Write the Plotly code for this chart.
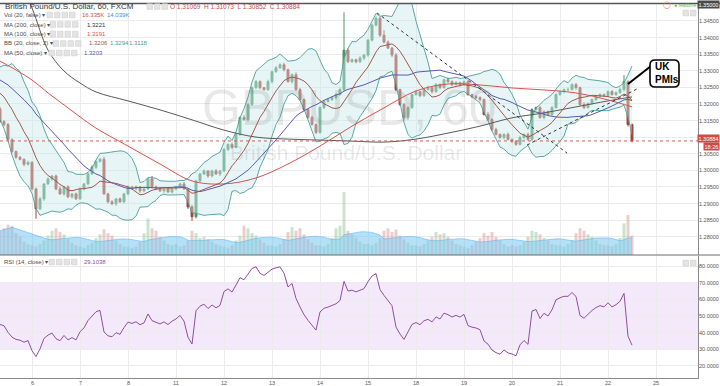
import numpy as np
import pandas as pd
import plotly.graph_objects as go

# ---------------- data ----------------
day_labels = ["6", "7", "8", "11", "12", "13", "14", "15", "18", "19", "20", "21", "22", "25"]
day_first_bar = [8, 20, 32, 44, 56, 68, 80, 92, 104, 116, 128, 140, 152, 164]  # 2-hour bars

price_ticks = [1.280, 1.285, 1.290, 1.295, 1.300, 1.305, 1.310, 1.315, 1.320, 1.325, 1.330, 1.335,
               1.340, 1.345]
rsi_ticks = [20, 30, 40, 50, 60, 70, 80]

# closes before the visible window (only used to warm up the indicators)
history_close = [1.3290, 1.3320, 1.3285, 1.3330, 1.3295, 1.3340, 1.3300, 1.3325, 1.3280, 1.3315,
                 1.3270, 1.3305, 1.3265, 1.3300, 1.3255, 1.3295, 1.3250, 1.3285, 1.3240, 1.3275,
                 1.3230, 1.3260, 1.3215, 1.3235, 1.3185]

close = [1.3147, 1.3138, 1.3093, 1.3057, 1.3039, 1.3033, 1.3018, 1.3024,
         1.2944, 1.2884, 1.2914, 1.2959, 1.2974, 1.2983, 1.2944, 1.2929, 1.2950, 1.2920, 1.2929, 1.2914,
         1.2944, 1.2959, 1.2989, 1.3009, 1.3027, 1.3033, 1.2929, 1.2905, 1.2899, 1.2914, 1.2905, 1.2929,
         1.2950, 1.2944, 1.2950, 1.2938, 1.2944, 1.2974, 1.2950, 1.2944, 1.2938, 1.2944, 1.2935, 1.2944,
         1.2950, 1.2959, 1.2944, 1.2890, 1.2860, 1.2968, 1.2989, 1.2998, 1.2983, 1.2998, 1.2989, 1.2998,
         1.3063, 1.3078, 1.3069, 1.3108, 1.3159, 1.3153, 1.3198, 1.3249, 1.3267, 1.3249, 1.3243, 1.3267,
         1.3297, 1.3309, 1.3318, 1.3303, 1.3267, 1.3288, 1.3243, 1.3213, 1.3183, 1.3159, 1.3138, 1.3114,
         1.3189, 1.3207, 1.3213, 1.3219, 1.3228, 1.3243, 1.3362, 1.3327, 1.3333, 1.3327, 1.3338, 1.3347,
         1.3392, 1.3437, 1.3458, 1.3407, 1.3386, 1.3368, 1.3347, 1.3243, 1.3198, 1.3159, 1.3189, 1.3228,
         1.3237, 1.3225, 1.3243, 1.3249, 1.3237, 1.3258, 1.3249, 1.3273, 1.3267, 1.3258, 1.3264, 1.3258,
         1.3267, 1.3228, 1.3222, 1.3219, 1.3213, 1.3168, 1.3153, 1.3123, 1.3108, 1.3099, 1.3108, 1.3093,
         1.3087, 1.3078, 1.3099, 1.3108, 1.3093, 1.3183, 1.3189, 1.3159, 1.3177, 1.3168, 1.3189, 1.3228,
         1.3237, 1.3243, 1.3243, 1.3258, 1.3249, 1.3198, 1.3189, 1.3201, 1.3213, 1.3222, 1.3228, 1.3225,
         1.3237, 1.3228, 1.3234, 1.3243, 1.3267, 1.3138, 1.30884]

upper_wick_pips = [6, 4, 5, 3, 2, 4, 3, 5,
                   3, 4, 6, 2, 5, 3, 4, 7, 3, 5, 2, 4,
                   4, 3, 5, 6, 2, 4, 8, 3, 5, 2, 4, 3,
                   5, 3, 4, 2, 6, 3, 9, 4, 3, 5, 2, 4,
                   3, 4, 5, 3, 6, 4, 3, 5, 2, 4, 6, 3,
                   4, 3, 6, 5, 3, 7, 4, 3, 5, 4, 2, 6,
                   3, 5, 4, 6, 3, 4, 7, 5, 3, 4, 6, 3,
                   4, 3, 5, 3, 4, 6, 114, 5, 4, 3, 6, 4,
                   3, 5, 6, 4, 15, 5, 4, 6, 3, 5, 4, 3,
                   5, 3, 4, 6, 3, 5, 4, 3, 6, 4, 5, 3,
                   4, 6, 3, 5, 4, 3, 8, 4, 5, 3, 4, 6,
                   3, 4, 5, 3, 6, 4, 3, 5, 4, 3, 5, 4,
                   4, 3, 6, 4, 5, 3, 7, 4, 3, 5, 4, 3,
                   4, 5, 3, 6, 20, 4, 3]

lower_wick_pips = [4, 6, 3, 5, 4, 3, 6, 4,
                   5, 30, 4, 6, 3, 5, 4, 3, 6, 4, 5, 3,
                   3, 5, 4, 3, 6, 4, 3, 5, 4, 6, 3, 5,
                   4, 3, 5, 6, 4, 3, 5, 4, 3, 6, 4, 5,
                   5, 4, 3, 6, 12, 5, 4, 3, 5, 4, 3, 6,
                   3, 5, 4, 3, 5, 4, 6, 3, 4, 5, 3, 4,
                   5, 3, 4, 5, 3, 6, 4, 3, 5, 4, 3, 5,
                   4, 5, 3, 4, 6, 3, 5, 4, 3, 5, 4, 6,
                   5, 4, 3, 5, 4, 3, 6, 5, 4, 6, 8, 4,
                   3, 5, 4, 3, 6, 4, 5, 3, 4, 5, 3, 6,
                   4, 3, 5, 4, 6, 3, 4, 5, 3, 4, 6, 3,
                   5, 4, 3, 6, 4, 5, 3, 4, 6, 3, 5, 4,
                   3, 5, 4, 3, 6, 4, 5, 3, 4, 5, 3, 4,
                   5, 3, 4, 3, 5, 6, 4]

volume_k = [20, 22, 25, 24, 18, 15, 11, 9,
            8, 7, 9, 12, 16, 20, 22, 19, 17, 13, 10, 8,
            7, 6, 8, 10, 14, 17, 21, 18, 16, 12, 9, 7,
            7, 6, 7, 11, 18, 30, 22, 20, 15, 12, 9, 8,
            9, 7, 8, 12, 20, 18, 14, 15, 13, 11, 9, 8,
            7, 6, 8, 12, 16, 24, 22, 18, 16, 13, 10, 8,
            8, 7, 9, 13, 19, 23, 20, 22, 17, 13, 10, 8,
            8, 7, 9, 14, 22, 24, 52, 20, 17, 14, 11, 9,
            9, 8, 10, 14, 20, 22, 19, 21, 16, 13, 10, 8,
            8, 7, 9, 12, 15, 19, 17, 18, 15, 12, 9, 8,
            7, 6, 8, 11, 14, 18, 16, 19, 15, 12, 9, 7,
            8, 7, 8, 11, 15, 20, 19, 17, 14, 12, 9, 8,
            8, 7, 9, 12, 18, 22, 20, 17, 15, 12, 9, 8,
            8, 7, 9, 14, 26, 33, 16]

# long moving averages at sample bars
ma_sample_bar = [0, 4, 8, 12, 16, 20, 24, 32, 40, 48, 56, 64, 72, 80, 88, 96, 104, 112, 120, 128,
                 136, 144, 152, 158]
ma200_read = [1.3694, 1.3597, 1.3489, 1.3362, 1.3299, 1.3263, 1.3236, 1.3209, 1.3182, 1.3152,
              1.3121, 1.3100, 1.3094, 1.3091, 1.3088, 1.3085, 1.3094, 1.3112, 1.3133, 1.3158,
              1.3173, 1.3191, 1.3209, 1.3221]
ma100_read = [1.3329, 1.3302, 1.3272, 1.3233, 1.3197, 1.3161, 1.3127, 1.3073, 1.3019, 1.2968,
              1.2959, 1.2977, 1.3019, 1.3073, 1.3133, 1.3188, 1.3239, 1.3260, 1.3257, 1.3248,
              1.3242, 1.3233, 1.3212, 1.3191]

# hand-drawn dotted trend lines: (bar, price) -> (bar, price)
trend_lines = [((94.25, 1.3474), (141.75, 1.3052)),
               ((131.75, 1.3076), (159.25, 1.3245))]

title_text = "British Pound/U.S. Dollar, 60, FXCM"
ohlc_text = "O 1.31069  H 1.31073  L 1.30852  C 1.30884"
vol_texts = ["16.335K", "14.039K"]
ma200_text, ma100_text, ma50_text = "1.3221", "1.3191", "1.3203"
bb_texts = ["1.3206", "1.3294", "1.3118"]
rsi_text = "29.1038"
last_price_text, countdown_text = "1.30884", "18:26"

# ---------------- indicators ----------------
n_hist = len(history_close)
allc = pd.Series(history_close + close)
bars = np.arange(len(close))
c = np.array(close)
o = np.r_[history_close[-1], c[:-1]]
hi = np.maximum(o, c) + np.array(upper_wick_pips) * 1e-4
lo = np.minimum(o, c) - np.array(lower_wick_pips) * 1e-4

bb_mid = allc.rolling(10, min_periods=1).mean().values[n_hist:]
bb_sd = allc.rolling(10, min_periods=1).std(ddof=0).values[n_hist:]
bb_up, bb_lo = bb_mid + 2 * bb_sd, bb_mid - 2 * bb_sd
ma50 = allc.rolling(25, min_periods=1).mean().values[n_hist:]
RSI_N = 14
d = allc.diff()
ag = d.clip(lower=0).ewm(alpha=1 / RSI_N, adjust=False).mean()
al = (-d.clip(upper=0)).ewm(alpha=1 / RSI_N, adjust=False).mean()
rsi = (100 - 100 / (1 + ag / al)).values[n_hist:]
vol = pd.Series(volume_k, dtype=float)
vol_ma = vol.rolling(10, min_periods=1).mean()
up = c >= o

# ---------------- geometry helpers ----------------
PW, PH, TOP = 698, 375, 3
W = 720


def px(x):
    return x / PW


def py(y):
    return (TOP + PH - y) / PH


FONT = "Liberation Sans, Arial, sans-serif"
C_UP, C_DN = "#4f9668", "#a4443a"
C_BB = "#45a09a"

fig = go.Figure()

fig.add_trace(go.Bar(x=bars, y=vol, yaxis="y3", xaxis="x", width=0.75,
                     marker=dict(color=np.where(up, "rgba(120,185,130,0.40)", "rgba(210,130,125,0.40)"),
                                 line=dict(width=0)), hoverinfo="skip"))
fig.add_trace(go.Scatter(x=bars, y=vol_ma, yaxis="y3", mode="lines", fill="tozeroy",
                         fillcolor="rgba(120,200,242,0.55)", line=dict(color="rgba(95,180,232,0.7)", width=0.8)))

fig.add_trace(go.Scatter(x=bars, y=bb_up, mode="lines", line=dict(color=C_BB, width=0.9)))
fig.add_trace(go.Scatter(x=bars, y=bb_lo, mode="lines", line=dict(color=C_BB, width=0.9),
                         fill="tonexty", fillcolor="rgba(205,232,236,0.45)"))
fig.add_trace(go.Scatter(x=ma_sample_bar, y=ma200_read, mode="lines", line_shape="spline",
                         line=dict(color="#5a5a5a", width=1)))
fig.add_trace(go.Scatter(x=ma_sample_bar, y=ma100_read, mode="lines", line_shape="spline",
                         line=dict(color="#d9534f", width=1)))
fig.add_trace(go.Scatter(x=bars, y=ma50, mode="lines", line=dict(color="#5a5ab0", width=1)))
fig.add_trace(go.Scatter(x=bars, y=bb_mid, mode="lines", line=dict(color="#a5574e", width=1)))

fig.add_trace(go.Candlestick(x=bars, open=o, high=hi, low=lo, close=c, whiskerwidth=0,
                             increasing=dict(line=dict(color=C_UP, width=1), fillcolor=C_UP),
                             decreasing=dict(line=dict(color=C_DN, width=1), fillcolor=C_DN)))

fig.add_trace(go.Scatter(x=bars, y=rsi, xaxis="x2", yaxis="y2", mode="lines",
                         line=dict(color="#8e4fa3", width=1)))

shapes = []
shapes.append(dict(type="rect", xref="paper", yref="y2", x0=0, x1=1, y0=30, y1=70,
                   fillcolor="#f4e8fb", line=dict(width=0), layer="below"))
shapes.append(dict(type="line", xref="paper", yref="y", x0=0, x1=1, y0=close[-1], y1=close[-1],
                   line=dict(color="#c9625c", width=1, dash="dot")))
for (xa, ya), (xb, yb) in trend_lines:
    shapes.append(dict(type="line", xref="x", yref="y", x0=xa, y0=ya, x1=xb, y1=yb,
                       line=dict(color="#333333", width=1, dash="dot")))
shapes.append(dict(type="line", xref="paper", yref="paper", x0=0, x1=W / PW, y0=py(255), y1=py(255),
                   line=dict(color="#6a6a6a", width=1)))
shapes.append(dict(type="line", xref="paper", yref="paper", x0=0, x1=W / PW, y0=py(3.5), y1=py(3.5),
                   line=dict(color="#555555", width=1.5)))
shapes.append(dict(type="line", xref="paper", yref="paper", x0=px(628), y0=py(84), x1=px(651), y1=py(66),
                   line=dict(color="black", width=2)))


def rrect(x0, y0, x1, y1, r):
    return (f"M {px(x0 + r)},{py(y0)} L {px(x1 - r)},{py(y0)} Q {px(x1)},{py(y0)} {px(x1)},{py(y0 + r)} "
            f"L {px(x1)},{py(y1 - r)} Q {px(x1)},{py(y1)} {px(x1 - r)},{py(y1)} "
            f"L {px(x0 + r)},{py(y1)} Q {px(x0)},{py(y1)} {px(x0)},{py(y1 - r)} "
            f"L {px(x0)},{py(y0 + r)} Q {px(x0)},{py(y0)} {px(x0 + r)},{py(y0)} Z")


shapes.append(dict(type="path", xref="paper", yref="paper", path=rrect(650, 60, 679, 87, 5),
                   fillcolor="white", line=dict(color="black", width=1.6)))

annotations = []


def txt(x, y, s, size=6, color="#4d4d4d", anchor="left", **kw):
    annotations.append(dict(x=px(x), y=py(y), xref="paper", yref="paper", text=s, showarrow=False,
                            xanchor=anchor, yanchor="middle", font=dict(family=FONT, size=size, color=color),
                            **kw))


def icons(x, y, n=4):
    for k in range(n):
        shapes.append(dict(type="rect", xref="paper", yref="paper",
                           x0=px(x + k * 7.5), x1=px(x + k * 7.5 + 5.5), y0=py(y + 2.8), y1=py(y - 2.8),
                           fillcolor="#e4e4e4", line=dict(color="#cfcfcf", width=0.6)))


# watermark
txt(349, 108, "GBPUSD, 60", size=50, color="rgba(110,110,110,0.16)", anchor="center")
txt(346, 152, "British Pound/U.S. Dollar", size=21, color="rgba(110,110,110,0.16)", anchor="center")

# legend
txt(3, 6.5, title_text, size=8, color="#333333")
icons(147, 6.5, 3)
txt(168, 6.5, ohlc_text, size=6.5, color="#c0504d")
rows = [
    (15, "Vol (20, false) ▾", 47, [(80, vol_texts[0], "#c0504d"), (105, vol_texts[1], "#3d8fd6")]),
    (24.5, "MA (200, close) ▾", 50, [(85, ma200_text, "#333333")]),
    (34, "MA (100, close) ▾", 50, [(85, ma100_text, "#d9534f")]),
    (43.5, "BB (20, close, 2) ▾", 53, [(87, bb_texts[0], "#a5574e"), (108, bb_texts[1], C_BB),
                                        (127, bb_texts[2], C_BB)]),
    (53, "MA (50, close) ▾", 49, [(82, ma50_text, "#5a5ab0")]),
    (262, "RSI (14, close) ▾", 49, [(82, rsi_text, "#8e4fa3")]),
]
for y, lab, ix, vals in rows:
    txt(2, y, lab)
    icons(ix, y)
    for vx, s, col in vals:
        txt(vx, y, s, color=col)

txt(653, 67, "<b>UK</b>", size=10, color="black")
txt(653, 79, "<b>PMIs</b>", size=10, color="black")

# right-axis tick labels (drawn as text so they fit the narrow strip)
AX_FONT = dict(family=FONT, size=5.5, color="#555555")
for t in price_ticks:
    annotations.append(dict(x=px(719.5), y=t, xref="paper", yref="y", text=f"{t:.5f}", showarrow=False,
                            xanchor="right", yanchor="middle", borderpad=0, font=AX_FONT))
for t in rsi_ticks:
    annotations.append(dict(x=px(719.5), y=t, xref="paper", yref="y2", text=f"{t:.4f}", showarrow=False,
                            xanchor="right", yanchor="middle", borderpad=0, font=AX_FONT))
for b, lab in zip(day_first_bar, day_labels):
    annotations.append(dict(x=b, y=py(382.5), xref="x2", yref="paper", text=lab, showarrow=False,
                            xanchor="center", yanchor="middle", borderpad=0, font=AX_FONT))

txt(719.5, 4.5, "1.35000", size=5.5, color="white", anchor="right", bgcolor="#4a4a4a", borderpad=0.5)
txt(719.5, 138, last_price_text, size=5.5, color="white", anchor="right", bgcolor="#cc4b45", borderpad=0.5)
txt(719.5, 146.5, countdown_text, size=5.5, color="white", anchor="right", bgcolor="#cc4b45", borderpad=0.5)
txt(667, 5, "◯", size=7, color="#f08a24", anchor="center")
txt(672, 5, "● realtime", size=5, color="#5cb85c")
icons(683, 13, 2)
icons(683, 263, 2)

fig.update_layout(
    width=720, height=386, margin=dict(l=0, r=22, t=3, b=8),
    paper_bgcolor="white", plot_bgcolor="white", showlegend=False,
    font=dict(family=FONT, size=6, color="#555555"),
    xaxis=dict(domain=[0, 1], range=[0, 174.5], anchor="y", tickvals=day_first_bar, showticklabels=False,
               showgrid=True, gridcolor="#ebebeb", zeroline=False, ticks="",
               rangeslider=dict(visible=False)),
    xaxis2=dict(domain=[0, 1], range=[0, 174.5], anchor="y2", matches="x", tickvals=day_first_bar,
                showticklabels=False, showgrid=True, gridcolor="#ebebeb", zeroline=False, ticks="",
                showline=True, linecolor="#8a8a8a"),
    yaxis=dict(domain=[py(255), 1], range=[1.27449, 1.35039], side="right", tickvals=price_ticks,
               showticklabels=False, showgrid=True, gridcolor="#ebebeb", zeroline=False, ticks="",
               showline=True, linecolor="#8a8a8a", automargin=False),
    yaxis3=dict(overlaying="y", anchor="x", range=[0, 207.5], visible=False),
    yaxis2=dict(domain=[0, py(256)], range=[12.65, 86.1], side="right", tickvals=rsi_ticks,
                showticklabels=False, showgrid=True, gridcolor="#ebebeb", zeroline=False, ticks="",
                showline=True, linecolor="#8a8a8a", automargin=False),
    shapes=shapes, annotations=annotations, bargap=0.2,
)

fig.write_html("out.html", config={"displayModeBar": False},
               post_script="document.body.style.margin='0px';document.body.style.overflow='hidden';")
